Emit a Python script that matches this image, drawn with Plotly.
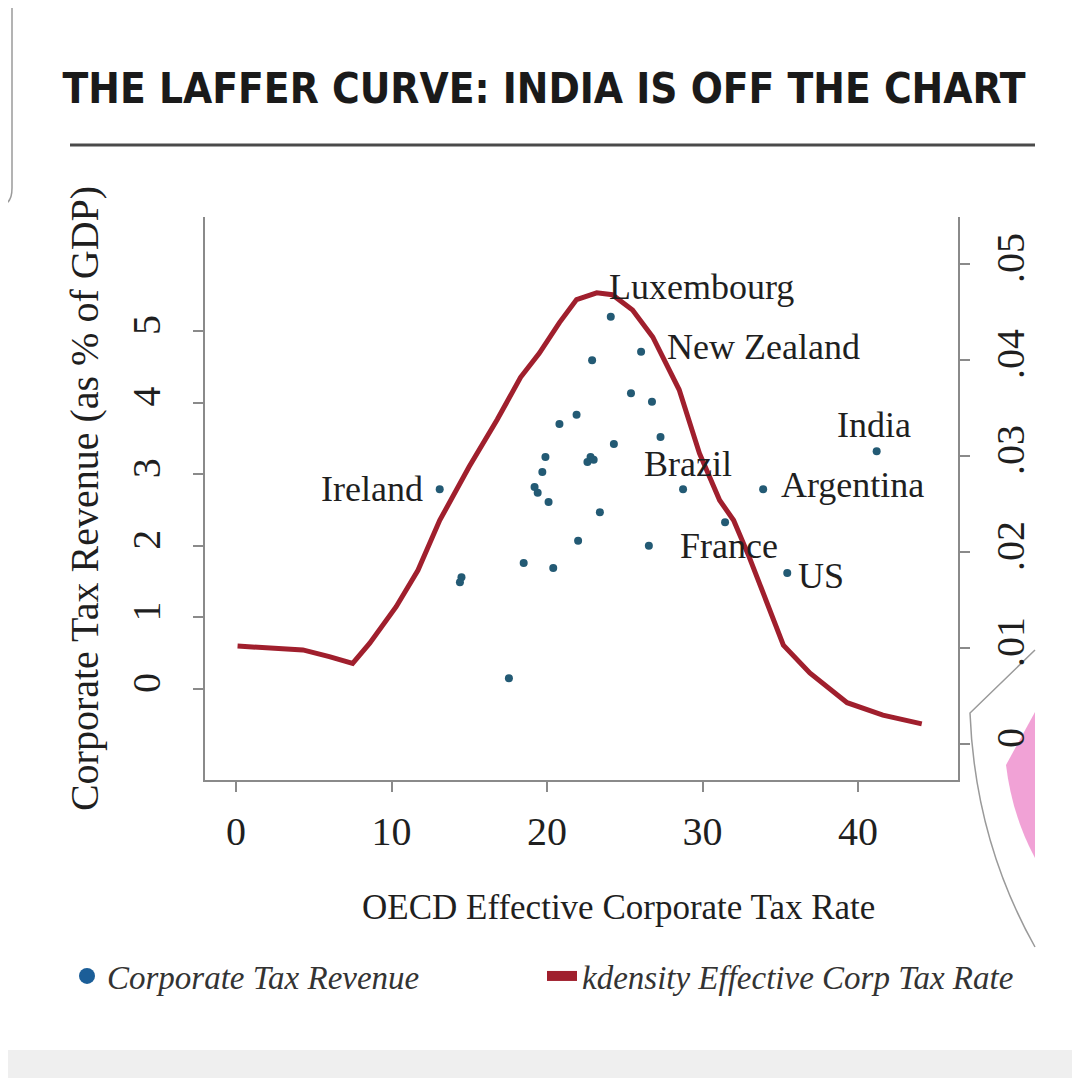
import plotly.graph_objects as go

# ---------------- data ----------------
rate = [24.1, 26.05, 22.9, 25.4, 26.75, 21.9, 20.8, 27.3, 24.3, 19.9, 22.8, 22.6,
        23.0, 19.7, 13.1, 19.2, 19.4, 20.1, 28.75, 33.9, 23.4, 31.45, 22.0, 26.55,
        18.5, 20.4, 14.5, 14.4, 35.45, 17.55, 41.2]
revenue = [5.20, 4.71, 4.59, 4.13, 4.01, 3.83, 3.70, 3.52, 3.42, 3.24, 3.24, 3.17,
           3.20, 3.03, 2.79, 2.82, 2.74, 2.61, 2.79, 2.79, 2.47, 2.33, 2.07, 2.00,
           1.76, 1.69, 1.56, 1.49, 1.62, 0.15, 3.32]
country = ["Luxembourg", "New Zealand", "", "", "", "", "", "", "", "", "", "",
           "", "", "Ireland", "", "", "", "Brazil", "Argentina", "", "", "", "France",
           "", "", "", "", "US", "", "India"]

kd_x = [0.1, 4.3, 6.0, 7.5, 8.6, 10.3, 11.7, 13.1, 15.0, 16.8, 18.3, 19.5, 20.8,
        21.9, 23.2, 24.2, 25.5, 26.8, 28.5, 29.8, 31.1, 32.0, 33.0, 34.1, 35.2,
        36.9, 39.3, 41.6, 44.1]
kd_y = [0.0102, 0.0098, 0.0091, 0.0084, 0.0105, 0.0143, 0.0181, 0.0233, 0.0289,
        0.0338, 0.0382, 0.0407, 0.0439, 0.0463, 0.0470, 0.0468, 0.0452, 0.0424,
        0.0369, 0.0303, 0.0254, 0.0233, 0.0195, 0.0150, 0.0103, 0.0074, 0.0043,
        0.0030, 0.0021]

x_ticks = [0, 10, 20, 30, 40]
y_ticks = [0, 1, 2, 3, 4, 5]
y2_ticks = [0, 0.01, 0.02, 0.03, 0.04, 0.05]
y2_ticktext = ["0", ".01", ".02", ".03", ".04", ".05"]

title_text = "THE LAFFER CURVE: INDIA IS OFF THE CHART"
x_title = "OECD Effective Corporate Tax Rate"
y_title = "Corporate Tax Revenue (as % of GDP)"
legend_names = ["Corporate Tax Revenue", "kdensity Effective Corp Tax Rate"]

# label placement styles: (xanchor, xshift, yshift)
label_style = {
    "Luxembourg": ("left", -4, 30),
    "New Zealand": ("left", 24, 5),
    "India": ("center", -3, 26),
    "Ireland": ("right", -15, 0),
    "Brazil": ("center", 5, 25),
    "Argentina": ("left", 16, 4),
    "France": ("left", 29, 0),
    "US": ("left", 9, -3),
}

# ---------------- layout helpers ----------------
# the page body has an 8px margin, so the figure starts at screen (8, 8)
OFF = 8
W, H = 1080 - OFF, 1078 - OFF
PL, PR, PT, PB = 205, 958, 217, 780          # plot box in screen pixels
L, R, T, B = PL - OFF, W - (PR - OFF), PT - OFF, H - (PB - OFF)


def pxx(x):
    return (x - PL) / (PR - PL)


def pxy(y):
    return (PB - y) / (PB - PT)


SERIF = "Liberation Serif, Times New Roman, serif"
TXT = "#1f1f1f"
AX = "#8a8a8a"
RED = "#a01f2d"

fig = go.Figure()

fig.add_trace(go.Scatter(
    x=kd_x, y=kd_y, yaxis="y2", mode="lines",
    line=dict(color=RED, width=5), showlegend=False, hoverinfo="skip"))

fig.add_trace(go.Scatter(
    x=rate, y=revenue, mode="markers",
    marker=dict(color="#235a74", size=8), showlegend=False, text=country))

# legend entries
fig.add_trace(go.Scatter(
    x=[None], y=[None], mode="markers", name=legend_names[0],
    marker=dict(color="#1b5e98", size=16)))
fig.add_trace(go.Scatter(
    x=[None], y=[None], mode="lines", name=legend_names[1], yaxis="y2",
    line=dict(color=RED, width=10)))

annotations = []
for xv, yv, name in zip(rate, revenue, country):
    if not name:
        continue
    xa, xs, ys = label_style[name]
    annotations.append(dict(
        x=xv, y=yv, xref="x", yref="y", text=name, showarrow=False,
        xanchor=xa, yanchor="middle", xshift=xs, yshift=ys,
        font=dict(family=SERIF, size=36, color=TXT)))

annotations.append(dict(
    x=pxx(618), y=pxy(908), xref="paper", yref="paper", text=x_title,
    showarrow=False, xanchor="center", yanchor="middle",
    font=dict(family=SERIF, size=35, color=TXT)))

shapes = [
    dict(type="line", xref="paper", yref="paper", x0=pxx(70), x1=pxx(1035),
         y0=pxy(145), y1=pxy(145), line=dict(color="#4a4a4a", width=3)),
    dict(type="path", xref="paper", yref="paper",
         path=f"M {pxx(12)},{pxy(0)} L {pxx(12)},{pxy(188)} Q {pxx(12)},{pxy(205)} {pxx(0)},{pxy(205)}",
         line=dict(color="#9a9a9a", width=1.5)),
    dict(type="rect", xref="paper", yref="paper", x0=pxx(0), x1=pxx(1080),
         y0=pxy(1050), y1=pxy(1078), fillcolor="#efefef", line=dict(width=0), layer="below"),
    dict(type="path", xref="paper", yref="paper", layer="below",
         path=f"M {pxx(1035)},{pxy(712)} L {pxx(1006)},{pxy(765)} Q {pxx(1012)},{pxy(815)} {pxx(1035)},{pxy(858)} Z",
         fillcolor="#ef92cf", line=dict(width=0), opacity=0.85),
    dict(type="path", xref="paper", yref="paper", layer="below",
         path=f"M {pxx(1035)},{pxy(650)} L {pxx(970)},{pxy(713)} Q {pxx(975)},{pxy(840)} {pxx(1035)},{pxy(947)}",
         line=dict(color="#9a9a9a", width=1.5)),
]

axis_common = dict(
    showgrid=False, zeroline=False, showline=True, linecolor=AX, linewidth=2,
    ticks="outside", ticklen=10, tickwidth=1.5, tickcolor=AX,
    tickfont=dict(family=SERIF, size=40, color=TXT))

fig.update_layout(
    width=W, height=H,
    margin=dict(l=L, r=R, t=T, b=B, autoexpand=False),
    paper_bgcolor="white", plot_bgcolor="white",
    title=dict(text=title_text, xref="container", x=(544 - OFF) / W,
               y=1 - (88 - OFF) / H, yanchor="middle", xanchor="center",
               font=dict(family="DejaVu Sans Condensed, DejaVu Sans, sans-serif",
                         size=42, weight="bold", color="#1a1a1a")),
    xaxis=dict(range=[-1.994, 46.43], tickvals=x_ticks, ticklabelstandoff=5,
               **axis_common),
    yaxis=dict(range=[-1.271, 6.592], tickvals=y_ticks, tickangle=-90,
               ticklabelstandoff=17,
               title=dict(text=y_title, standoff=13,
                          font=dict(family=SERIF, size=40, color=TXT)),
               **axis_common),
    yaxis2=dict(range=[-0.00375, 0.0549], overlaying="y", side="right",
                tickvals=y2_ticks, ticktext=y2_ticktext, tickangle=-90,
                ticklabelstandoff=6, **axis_common),
    legend=dict(orientation="h", x=pxx(67), y=pxy(976), xanchor="left",
                yanchor="middle", bgcolor="rgba(0,0,0,0)",
                entrywidth=430, entrywidthmode="pixels",
                font=dict(family=SERIF, size=33, color="#333333", style="italic")),
    annotations=annotations,
    shapes=shapes,
    showlegend=True,
)

fig.write_html("out.html")
